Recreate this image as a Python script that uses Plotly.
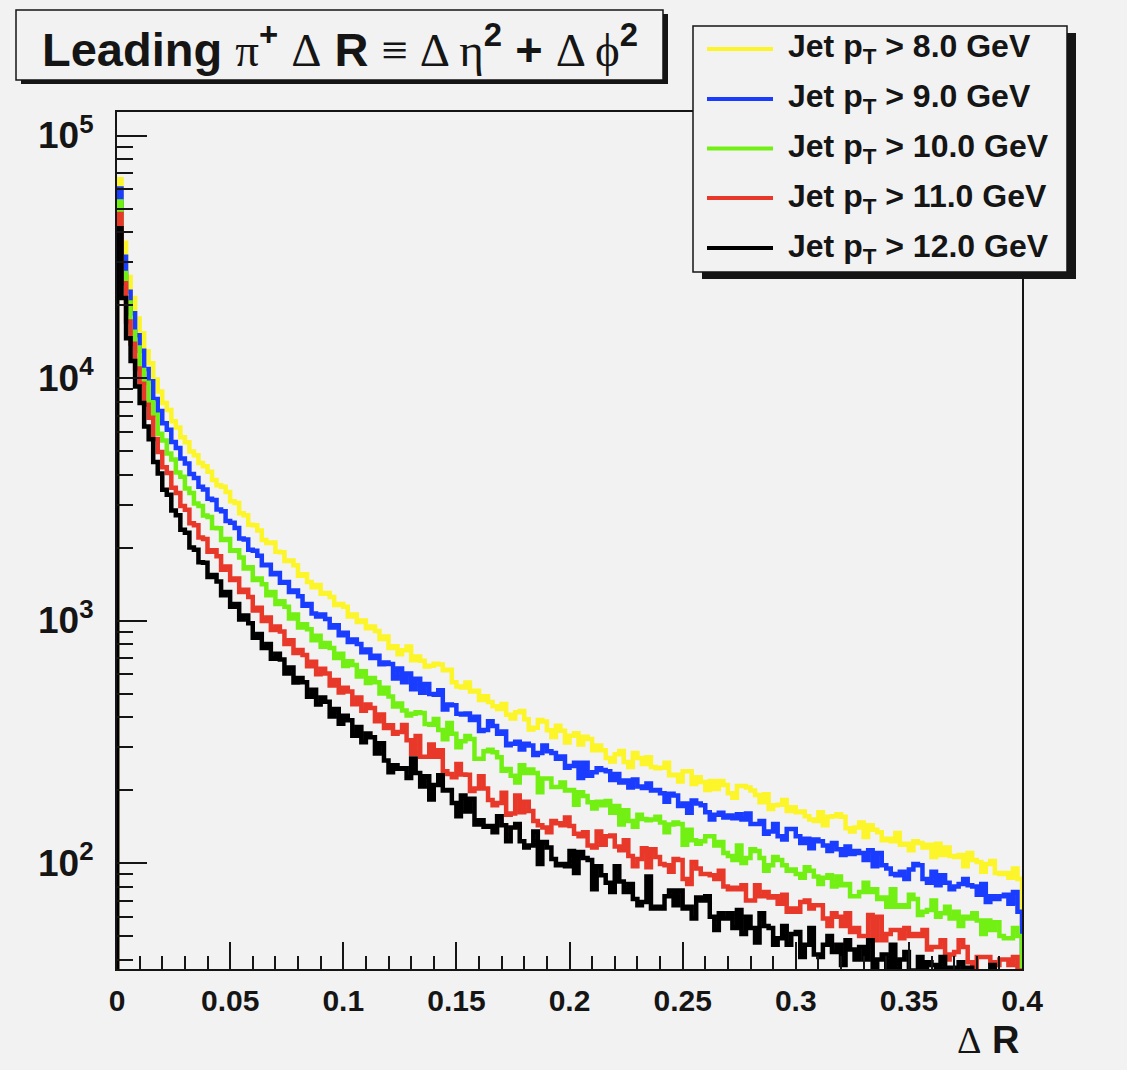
import plotly.graph_objects as go

# Leading pi+ Delta R spectra for five jet-pT thresholds.
# Histogram contents, 200 bins of width 0.002 spanning Delta R in [0, 0.4).
dr_min, dr_max = 0.0, 0.4

jet_pt_min = [8.0, 9.0, 10.0, 11.0, 12.0]

counts_pt8 = [
    66000, 36100, 26100, 21400, 17600, 15300, 12900, 11500, 9870, 8790, 7890, 7380, 6630, 6250, 5700, 5440, 4980, 4800, 4460, 4330,
    4110, 3800, 3610, 3560, 3390, 3100, 3050, 2770, 2720, 2480, 2470, 2350, 2150, 2090, 2100, 1920, 1910, 1760, 1770, 1690,
    1530, 1550, 1440, 1370, 1400, 1290, 1300, 1250, 1160, 1170, 1140, 1040, 1060, 985, 1000, 930, 945, 905, 840, 860,
    771, 784, 726, 754, 782, 685, 711, 683, 647, 651, 664, 658, 623, 626, 557, 534, 530, 555, 510, 513,
    470, 487, 461, 443, 432, 453, 409, 394, 419, 424, 392, 355, 361, 389, 383, 353, 331, 368, 351, 314,
    335, 343, 308, 332, 325, 292, 305, 292, 271, 262, 281, 290, 261, 249, 284, 271, 256, 273, 249, 246,
    247, 259, 230, 231, 217, 239, 239, 212, 226, 216, 200, 218, 202, 218, 210, 194, 186, 208, 208, 205,
    199, 191, 178, 192, 167, 173, 174, 182, 164, 170, 162, 163, 156, 151, 149, 162, 143, 155, 156, 159,
    155, 139, 135, 140, 147, 128, 143, 137, 134, 124, 126, 123, 133, 119, 120, 113, 123, 121, 116, 119,
    106, 120, 108, 116, 107, 106, 108, 97, 110, 103, 101, 92, 99, 102, 91, 90, 91, 87, 95, 86,
]

counts_pt9 = [
    60500, 31600, 22700, 18500, 15000, 12950, 10900, 9700, 8200, 7320, 6510, 6120, 5450, 5140, 4660, 4440, 4020, 3870, 3560, 3470,
    3180, 3140, 2870, 2820, 2570, 2530, 2410, 2180, 2160, 1960, 1940, 1850, 1690, 1700, 1550, 1570, 1430, 1440, 1310, 1330,
    1260, 1150, 1170, 1070, 1040, 1060, 1015, 935, 955, 870, 890, 815, 835, 800, 740, 760, 700, 715, 660, 672,
    662, 577, 634, 556, 604, 521, 575, 504, 547, 498, 494, 516, 430, 451, 447, 413, 410, 414, 389, 401,
    350, 354, 384, 367, 341, 349, 306, 310, 316, 294, 310, 305, 279, 284, 305, 289, 284, 269, 275, 247,
    251, 259, 224, 259, 229, 237, 246, 242, 239, 220, 233, 215, 219, 205, 221, 207, 204, 213, 199, 200,
    194, 179, 193, 190, 172, 176, 161, 181, 176, 173, 162, 151, 158, 161, 154, 157, 153, 159, 151, 160,
    145, 145, 149, 132, 135, 145, 129, 125, 138, 138, 129, 121, 126, 115, 125, 123, 118, 112, 121, 114,
    108, 117, 109, 112, 110, 103, 113, 97, 110, 98, 95, 90, 89, 92, 86, 94, 99, 98, 86, 83,
    92, 81, 89, 83, 78, 80, 82, 86, 81, 80, 74, 82, 69, 73, 71, 73, 74, 68, 76, 63,
]

counts_pt10 = [
    53500, 27100, 20500, 15500, 13350, 10800, 9560, 7950, 7060, 5890, 5530, 4880, 4610, 4080, 3920, 3500, 3360, 3040, 2970, 2710,
    2670, 2410, 2400, 2150, 2170, 1940, 1950, 1820, 1640, 1660, 1470, 1490, 1410, 1270, 1310, 1170, 1200, 1140, 1020, 1060,
    935, 965, 920, 830, 865, 780, 808, 770, 700, 730, 650, 680, 655, 588, 618, 552, 580, 556, 500, 528,
    486, 442, 455, 426, 406, 413, 419, 416, 374, 372, 393, 354, 324, 378, 341, 300, 318, 334, 325, 269,
    269, 289, 293, 286, 273, 240, 244, 229, 215, 253, 235, 243, 235, 196, 223, 223, 206, 206, 215, 199,
    200, 174, 196, 189, 178, 168, 179, 173, 180, 161, 172, 144, 165, 149, 141, 158, 152, 150, 151, 155,
    147, 134, 144, 147, 145, 119, 137, 124, 120, 123, 129, 129, 118, 122, 110, 107, 103, 118, 100, 105,
    114, 112, 105, 93, 98, 106, 103, 98, 93, 94, 90, 87, 96, 93, 88, 82, 87, 89, 80, 88,
    81, 82, 73, 73, 76, 83, 76, 78, 71, 72, 66, 78, 66, 67, 66, 74, 71, 61, 63, 64,
    70, 60, 62, 66, 59, 63, 55, 60, 59, 62, 58, 51, 58, 53, 57, 50, 49, 49, 54, 50,
]

counts_pt11 = [
    47500, 24600, 17100, 13850, 10950, 9480, 7760, 6850, 5600, 4950, 4290, 4060, 3530, 3360, 2970, 2860, 2520, 2470, 2200, 2170,
    1920, 1950, 1840, 1620, 1670, 1470, 1490, 1310, 1340, 1250, 1100, 1130, 995, 1030, 915, 945, 900, 800, 830, 735,
    755, 720, 648, 676, 600, 632, 605, 540, 568, 505, 528, 510, 452, 482, 425, 450, 436, 384, 410, 360,
    370, 341, 347, 371, 321, 282, 334, 274, 274, 308, 274, 292, 239, 233, 226, 256, 232, 231, 198, 203,
    228, 203, 182, 173, 177, 195, 158, 160, 190, 162, 179, 164, 149, 143, 140, 134, 149, 146, 143, 154,
    142, 132, 129, 134, 118, 116, 135, 119, 129, 130, 117, 113, 124, 107, 97, 104, 115, 96, 114, 106,
    99, 98, 92, 104, 103, 86, 82, 101, 95, 90, 90, 89, 86, 93, 80, 78, 79, 78, 81, 70,
    70, 81, 73, 76, 72, 73, 68, 74, 63, 65, 63, 69, 70, 65, 67, 67, 59, 55, 62, 60,
    55, 62, 52, 54, 50, 50, 61, 48, 60, 48, 51, 53, 53, 49, 54, 50, 51, 50, 53, 44,
    45, 45, 48, 40, 42, 43, 48, 45, 39, 37, 41, 41, 41, 39, 38, 40, 40, 38, 41, 36,
]

counts_pt12 = [
    41500, 21400, 14600, 11750, 9220, 7880, 6310, 5590, 4500, 4040, 3460, 3300, 2840, 2720, 2370, 2300, 2000, 1960, 1740, 1730,
    1510, 1540, 1450, 1270, 1310, 1140, 1170, 1010, 1050, 975, 850, 880, 770, 800, 695, 730, 690, 605, 640, 555,
    580, 556, 485, 518, 450, 482, 462, 402, 432, 375, 405, 388, 335, 364, 315, 342, 330, 283, 312, 265,
    237, 253, 245, 246, 224, 270, 235, 207, 228, 183, 210, 230, 199, 200, 177, 156, 190, 163, 184, 144,
    150, 141, 142, 134, 156, 143, 123, 140, 145, 123, 116, 118, 135, 99, 122, 116, 104, 98, 99, 97,
    112, 91, 111, 105, 103, 78, 97, 89, 83, 76, 97, 84, 76, 82, 71, 67, 69, 88, 65, 66,
    65, 73, 77, 67, 77, 65, 66, 59, 72, 70, 73, 60, 53, 62, 59, 62, 54, 64, 51, 60,
    54, 47, 62, 55, 54, 46, 49, 55, 46, 51, 52, 41, 46, 54, 42, 41, 46, 50, 43, 46,
    38, 48, 44, 40, 45, 40, 48, 37, 40, 42, 37, 46, 34, 40, 43, 36, 34, 41, 36, 39,
    38, 31, 41, 33, 37, 33, 39, 31, 37, 33, 31, 35, 28, 38, 31, 33, 29, 35, 31, 33,
]

series_counts = [counts_pt8, counts_pt9, counts_pt10, counts_pt11, counts_pt12]
series_colors = ["#fbf52a", "#1a3cff", "#73f013", "#e8382a", "#000000"]
series_labels = [f"Jet p<sub>T</sub> &gt; {pt:.1f} GeV" for pt in jet_pt_min]

y_tick_vals = [1e2, 1e3, 1e4, 1e5]
y_tick_text = ["10<sup>2</sup>", "10<sup>3</sup>", "10<sup>4</sup>", "10<sup>5</sup>"]
y_minor_vals = [m * 10 ** e for e in range(1, 5) for m in range(2, 10)]

# canvas geometry (pixels)
W, H = 1127, 1070
FL, FR, FT, FB = 117, 1022, 112, 969
BG = "#f2f2f2"
INK = "#151515"
SANS = "Liberation Sans, Arial, Helvetica, sans-serif"
SERIF = "Liberation Serif, Times New Roman, serif"


def px(x):
    return (x - FL) / (FR - FL)


def py(y):
    return (FB - y) / (FB - FT)


fig = go.Figure()

floor = 1.0
for counts, color, label in zip(series_counts, series_colors, series_labels):
    n = len(counts)
    width = (dr_max - dr_min) / n
    left_edges = [dr_min + i * width for i in range(n)]
    xs = [dr_min] + left_edges + [dr_max, dr_max]
    ys = [floor] + counts + [counts[-1], floor]
    fig.add_trace(go.Scatter(
        x=xs, y=ys, mode="lines", name=label,
        line=dict(color=color, width=4.5, shape="hv"),
        showlegend=False, hoverinfo="skip",
    ))

shapes = []
annotations = []

# title box with drop shadow
tb = (16, 10, 663, 80)
shapes.append(dict(type="rect", xref="paper", yref="paper", layer="above",
                   x0=px(tb[0] + 5), x1=px(tb[2] + 5), y0=py(tb[3] + 4), y1=py(tb[1] + 4),
                   fillcolor=INK, line=dict(width=0)))
shapes.append(dict(type="rect", xref="paper", yref="paper", layer="above",
                   x0=px(tb[0]), x1=px(tb[2]), y0=py(tb[3]), y1=py(tb[1]),
                   fillcolor=BG, line=dict(color=INK, width=1.5)))

title_html = (
    "<b>Leading</b> "
    f"<span style='font-family:{SERIF}'>π</span><b><sup>+</sup></b> "
    f"<span style='font-family:{SERIF}'>Δ</span> <b>R</b> "
    f"<span style='font-family:{SERIF}'>≡ Δ η</span><b><sup>2</sup> +</b> "
    f"<span style='font-family:{SERIF}'>Δ ϕ</span><b><sup>2</sup></b>"
)
annotations.append(dict(xref="paper", yref="paper", x=px((tb[0] + tb[2]) / 2), y=py(46),
                        xanchor="center", yanchor="middle", showarrow=False,
                        text=title_html, font=dict(family=SANS, size=47, color=INK)))

# legend box with drop shadow
lb = (693, 26, 1067, 272)
shapes.append(dict(type="rect", xref="paper", yref="paper", layer="above",
                   x0=px(lb[0] + 9), x1=px(lb[2] + 9), y0=py(lb[3] + 7), y1=py(lb[1] + 7),
                   fillcolor=INK, line=dict(width=0)))
shapes.append(dict(type="rect", xref="paper", yref="paper", layer="above",
                   x0=px(lb[0]), x1=px(lb[2]), y0=py(lb[3]), y1=py(lb[1]),
                   fillcolor=BG, line=dict(color=INK, width=1.5)))

row_y = [49, 99, 148.5, 198, 248]
for yy, color, label in zip(row_y, series_colors, series_labels):
    shapes.append(dict(type="line", xref="paper", yref="paper", layer="above",
                       x0=px(707), x1=px(773), y0=py(yy), y1=py(yy),
                       line=dict(color=color, width=4)))
    annotations.append(dict(xref="paper", yref="paper", x=px(786), y=py(yy),
                            xanchor="left", yanchor="middle", showarrow=False,
                            text=f"<b>{label}</b>", font=dict(family=SANS, size=32, color=INK)))

# x-axis title
annotations.append(dict(xref="paper", yref="paper", x=px(1021), y=py(1040),
                        xanchor="right", yanchor="middle", showarrow=False,
                        text=f"<span style='font-family:{SERIF}'>Δ</span> <b>R</b>",
                        font=dict(family=SANS, size=38, color=INK)))

fig.update_layout(
    width=W, height=H, autosize=False,
    margin=dict(l=FL, r=W - FR, t=FT, b=H - FB, pad=0),
    paper_bgcolor=BG, plot_bgcolor=BG,
    showlegend=False,
    shapes=shapes, annotations=annotations,
    xaxis=dict(
        range=[dr_min, dr_max], showgrid=False, zeroline=False,
        showline=True, mirror=True, linecolor=INK, linewidth=2,
        ticks="inside", ticklen=27, tickwidth=2, tickcolor=INK,
        tick0=0, dtick=0.05,
        minor=dict(ticks="inside", ticklen=13, tickwidth=2, tickcolor=INK, dtick=0.01, tick0=0),
        tickfont=dict(family=SANS, size=30, color=INK, weight="bold"),
        ticklabelstandoff=4,
    ),
    yaxis=dict(
        type="log", range=[1.563, 5.097], showgrid=False, zeroline=False,
        showline=True, mirror=True, linecolor=INK, linewidth=2,
        ticks="inside", ticklen=30, tickwidth=2, tickcolor=INK,
        tickmode="array", tickvals=y_tick_vals, ticktext=y_tick_text,
        minor=dict(ticks="inside", ticklen=16, tickwidth=2, tickcolor=INK,
                   tickmode="array", tickvals=y_minor_vals),
        tickfont=dict(family=SANS, size=37, color=INK, weight="bold"),
        ticklabelstandoff=14,
    ),
)

fig.write_html("out.html")
